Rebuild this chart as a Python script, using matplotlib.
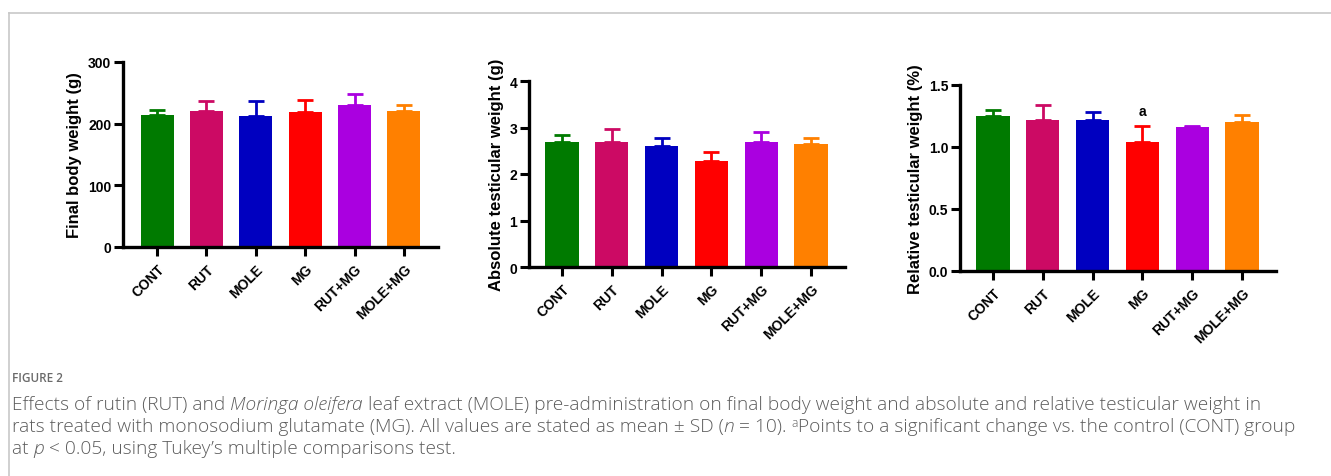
import numpy as np
import matplotlib
matplotlib.use("Agg")
import matplotlib.pyplot as plt
from matplotlib.lines import Line2D

plt.rcParams['font.family'] = ['Liberation Sans', 'DejaVu Sans']

# data
groups = ['CONT', 'RUT', 'MOLE', 'MG', 'RUT+MG', 'MOLE+MG']
colors = ['#007a00', '#cc0a64', '#0000c0', '#ff0000', '#aa00e0', '#ff8000']

body_mean = [214, 220, 213, 219, 231, 220]
body_sd = [8, 17, 24, 20, 17, 10]

abs_mean = [2.68, 2.68, 2.60, 2.27, 2.68, 2.65]
abs_sd = [0.15, 0.28, 0.18, 0.21, 0.22, 0.12]

rel_mean = [1.25, 1.22, 1.22, 1.04, 1.16, 1.20]
rel_sd = [0.05, 0.12, 0.06, 0.13, 0.01, 0.06]
sig_marks = ['', '', '', 'a', '', '']

W, H = 1331, 477
fig = plt.figure(figsize=(W / 100, H / 100), dpi=100)


def px_axes(left, right, top, bottom):
    return fig.add_axes([left / W, 1 - bottom / H, (right - left) / W, (bottom - top) / H])


def panel(ax, mean, sd, ylim, yticks, ylabel, fmt, xlim, marks=None):
    x = np.arange(len(groups))
    ax.bar(x, mean, width=0.67, color=colors, zorder=2)
    for i in range(len(groups)):
        ax.errorbar(x[i], mean[i], yerr=[[0], [sd[i]]], fmt='none', ecolor=colors[i],
                    elinewidth=2, capsize=6, capthick=2, zorder=1)
        if marks and marks[i]:
            ax.text(x[i], mean[i] + sd[i] + (ylim[1] - ylim[0]) * 0.04, marks[i],
                    ha='center', va='bottom', fontsize=10, fontweight='bold')
    ax.set_xlim(*xlim)
    ax.set_ylim(*ylim)
    ax.set_yticks(yticks)
    ax.set_yticklabels([fmt.format(v) for v in yticks])
    ax.set_xticks(x)
    ax.set_xticklabels(groups, rotation=45, ha='right', rotation_mode='anchor')
    for lab in ax.get_xticklabels() + ax.get_yticklabels():
        lab.set_fontweight('bold')
        lab.set_fontsize(10)
    ax.tick_params(width=2.2, length=6.5, pad=2)
    ax.tick_params(axis='x', pad=4)
    for s in ['top', 'right']:
        ax.spines[s].set_visible(False)
    for s in ['left', 'bottom']:
        ax.spines[s].set_linewidth(2.4)
    ax.set_ylabel(ylabel, fontsize=12, fontweight='bold', labelpad=4)
    ax.patch.set_alpha(0)


ax1 = px_axes(123, 438, 63, 248)
panel(ax1, body_mean, body_sd, (0, 300), [0, 100, 200, 300], 'Final body weight (g)',
      '{:g}', (-0.69, 5.69))

ax2 = px_axes(529, 845, 82, 268)
panel(ax2, abs_mean, abs_sd, (0, 4), [0, 1, 2, 3, 4], 'Absolute testicular weight (g)',
      '{:g}', (-0.66, 5.68))

ax3 = px_axes(960, 1276, 86, 272)
panel(ax3, rel_mean, rel_sd, (0, 1.5), [0, 0.5, 1.0, 1.5], 'Relative testicular weight (%)',
      '{:.1f}', (-0.66, 5.68), marks=sig_marks)

# frame lines of the figure box
fig.add_artist(Line2D([9 / W, 1], [1 - 14 / H, 1 - 14 / H], color='#c8c8c8', lw=1.2))
fig.add_artist(Line2D([9 / W, 9 / W], [0, 1 - 14 / H], color='#c8c8c8', lw=1.2))

# caption
cap_font = ['Open Sans', 'DejaVu Sans']
cap_color = '#5c5c5c'
fig.text(12 / W, 1 - 382 / H, 'FIGURE 2', fontsize=8.5, color='#6a6a6a',
         family=cap_font, fontweight='semibold', va='baseline')

caption_lines = [
    [('Effects of rutin (RUT) and ', 'normal'), ('Moringa oleifera', 'italic'),
     (' leaf extract (MOLE) pre-administration on final body weight and absolute and relative testicular weight in', 'normal')],
    [('rats treated with monosodium glutamate (MG). All values are stated as mean \u00b1 SD (', 'normal'),
     ('n', 'italic'), (' = 10). ', 'normal'), ('a', 'sup'),
     ('Points to a significant change vs. the control (CONT) group', 'normal')],
    [('at ', 'normal'), ('p', 'italic'), (' < 0.05, using Tukey\u2019s multiple comparisons test.', 'normal')],
]
caption_y = [410, 432, 454]

renderer = fig.canvas.get_renderer()


def draw_line(runs, ypix, size, draw=True):
    xpix = 12
    for txt, style in runs:
        s = size
        yy = ypix
        fstyle = style
        if style == 'sup':
            s = size * 0.62
            yy = ypix - 5
            fstyle = 'normal'
        t = fig.text(xpix / W, 1 - yy / H, txt, fontsize=s, color=cap_color,
                     family=cap_font, style=fstyle, fontweight='light', va='baseline')
        xpix += t.get_window_extent(renderer=renderer).width
        if not draw:
            t.remove()
    return xpix


# scale caption size so the second line ends where it does in the figure
test_end = draw_line(caption_lines[1], caption_y[1], 10, draw=False)
cap_size = 10 * (1294 - 12) / (test_end - 12)
for runs, ypix in zip(caption_lines, caption_y):
    draw_line(runs, ypix, cap_size)

fig.savefig('out.png', dpi=100)
